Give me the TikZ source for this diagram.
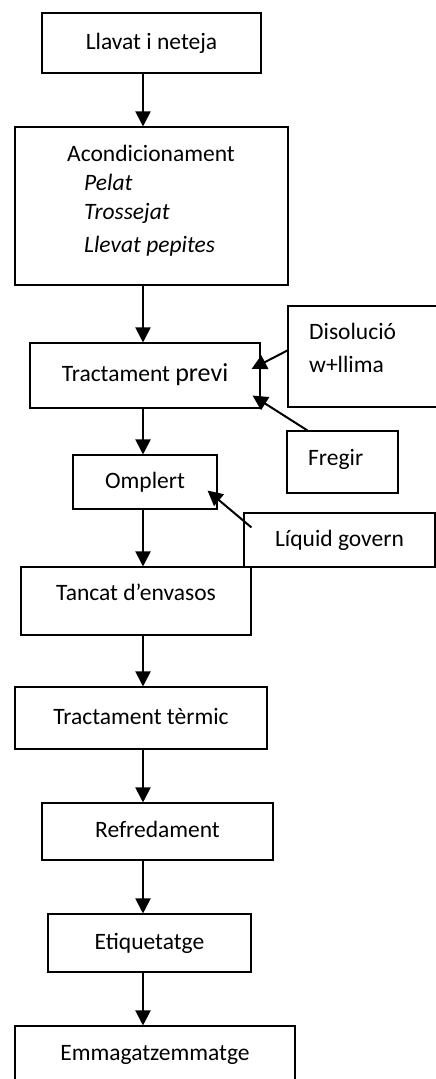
\documentclass[tikz,border=0pt]{standalone}
\usepackage{fontspec}
\setmainfont{Carlito}
\usetikzlibrary{calc, arrows.meta}
\tikzstyle{box} = [draw, line width=1.1pt, inner sep=0pt, text height=17pt, text depth=5pt]
\tikzstyle{flow} = [line width=2pt, -{Triangle[length=15pt, width=15pt]}]
\tikzstyle{txt} = [inner sep=0pt, align=left]

\begin{document}
\begin{tikzpicture}[x=1pt, y=-1pt, font=\fontsize{23.5}{29}\selectfont]
 		\useasboundingbox (0,0) rectangle (436,1079);
 		\clip (0,0) rectangle (436,1079);
 		\coordinate (spine) at (143,0);
 		% main column
 		\node[box, minimum width=219pt, minimum height=60pt] (llavat) at (151.5,43) {Llavat i neteja};
 		\node[box, minimum width=273pt, minimum height=158pt] (acond) at (151.5,206) {};
 		\node[txt, anchor=north west] (acondtxt) at (67,145) {Acondicionament\\ \hspace*{17pt}\textit{Pelat}\\ \hspace*{17pt}\textit{Trossejat}\\[4pt] \hspace*{17pt}\textit{Llevat pepites}};
 		\node[box, minimum width=230pt, minimum height=65pt] (previ) at (145,375.5) {Tractament {\fontsize{26}{30}\selectfont previ}};
 		\node[box, minimum width=144pt, minimum height=54pt] (omplert) at (145,482) {Omplert};
 		\node[box, minimum width=230pt, minimum height=68pt, text depth=19pt] (tancat) at (136,601) {Tancat d’envasos};
 		\node[box, minimum width=252pt, minimum height=62pt] (termic) at (141,718) {Tractament tèrmic};
 		\node[box, minimum width=231pt, minimum height=57pt] (refred) at (157.5,831.5) {Refredament};
 		\node[box, minimum width=203pt, minimum height=58pt] (etiq) at (149.5,943) {Etiquetatge};
 		\node[box, minimum width=280pt, minimum height=62pt, text depth=11pt] (emmag) at (155,1057) {Emmagatzemmatge};
 		% side inputs
 		\node[box, minimum width=182pt, minimum height=101pt] (disol) at (379,356.5) {};
 		\node[txt, anchor=north west, font=\fontsize{23.5}{33}\selectfont] (disoltxt) at (309,323) {Disolució\\w+llima};
 		\node[box, minimum width=111pt, minimum height=62pt] (fregir) at (342.5,462) {};
 		\node[txt, anchor=base west] (fregirtxt) at (308,465) {Fregir};
 		\node[box, minimum width=191pt, minimum height=54pt] (liquid) at (339.5,540) {Líquid govern};
 		\foreach \a/\b in {llavat/acond, acond/previ, previ/omplert, omplert/tancat, tancat/termic, termic/refred, refred/etiq, etiq/emmag}
 			\draw[flow] (\a.south -| spine) -- (\b.north -| spine);
 		\coordinate (dis-a) at ($(disol.north west)+(0,45)$);
 		\coordinate (previ-a) at ($(previ.east)+(-9,-6.5)$);
 		\coordinate (fregir-a) at ($(fregir.north west)+(21,0)$);
 		\coordinate (previ-b) at ($(previ.south east)+(-8,-13)$);
 		\coordinate (liquid-a) at ($(liquid.north west)+(8,15)$);
 		\coordinate (omplert-a) at ($(omplert.south east)+(-10,-19)$);
 		\draw[flow] (dis-a) -- (previ-a);
 		\draw[flow] (fregir-a) -- (previ-b);
 		\draw[flow] (liquid-a) -- (omplert-a);
 	\end{tikzpicture}
\end{document}
